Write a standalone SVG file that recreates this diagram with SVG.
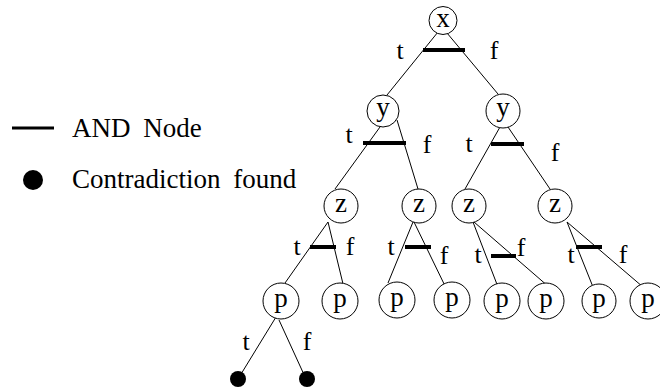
<svg xmlns="http://www.w3.org/2000/svg" width="660" height="390" viewBox="0 0 660 390">
  <style>
    text { font-family: "Liberation Serif", "Times New Roman", serif; fill: #000; }
    .lbl { font-size: 26px; text-anchor: middle; }
    .nd circle { fill: #fff; stroke: #000; stroke-width: 1; }
    .nd text { font-size: 27px; text-anchor: middle; }
    .edge { stroke: #000; stroke-width: 1; fill: none; }
    .and { stroke: #000; stroke-width: 4; }
    .dot { fill: #000; }
    .legend { font-size: 27px; word-spacing: 6px; }
  </style>

  <!-- legend -->
  <g id="legend">
    <line class="and" x1="12" y1="128" x2="54" y2="128" style="stroke-width:3"/>
    <text class="legend" x="72" y="137">AND Node</text>
    <circle class="dot" cx="33" cy="180" r="10"/>
    <text class="legend" x="72" y="188">Contradiction found</text>
  </g>

  <!-- branches, AND bars and branch labels -->
  <g id="connectors">
    <!-- x -->
    <line class="edge" x1="438" y1="32" x2="387" y2="95"/>
    <line class="edge" x1="447" y1="33" x2="498" y2="94"/>
    <line class="and" x1="423" y1="50" x2="465" y2="50"/>
    <text class="lbl" x="400" y="59">t</text>
    <text class="lbl" x="494" y="59">f</text>
    <!-- y (left) -->
    <line class="edge" x1="380" y1="127" x2="335" y2="189"/>
    <line class="edge" x1="397" y1="120" x2="418" y2="189"/>
    <line class="and" x1="363" y1="143" x2="406" y2="143"/>
    <text class="lbl" x="349" y="143">t</text>
    <text class="lbl" x="427" y="153">f</text>
    <!-- y (right) -->
    <line class="edge" x1="500" y1="127" x2="465" y2="189"/>
    <line class="edge" x1="508" y1="127" x2="550" y2="189"/>
    <line class="and" x1="491" y1="144" x2="524" y2="144"/>
    <text class="lbl" x="469" y="152">t</text>
    <text class="lbl" x="555" y="161">f</text>
    <!-- z1 -->
    <line class="edge" x1="328" y1="222" x2="285" y2="283"/>
    <line class="edge" x1="328" y1="222" x2="344" y2="288"/>
    <line class="and" x1="310" y1="247" x2="336" y2="247"/>
    <text class="lbl" x="297" y="255">t</text>
    <text class="lbl" x="350" y="255">f</text>
    <!-- z2 -->
    <line class="edge" x1="413" y1="222" x2="388" y2="283"/>
    <line class="edge" x1="414" y1="222" x2="447" y2="290"/>
    <line class="and" x1="405" y1="247" x2="431" y2="247"/>
    <text class="lbl" x="391" y="255">t</text>
    <text class="lbl" x="444" y="264">f</text>
    <!-- z3 -->
    <line class="edge" x1="473" y1="222" x2="498" y2="287"/>
    <line class="edge" x1="474" y1="222" x2="549" y2="287"/>
    <line class="and" x1="491" y1="256" x2="516" y2="256"/>
    <text class="lbl" x="478" y="263">t</text>
    <text class="lbl" x="521" y="256">f</text>
    <!-- z4 -->
    <line class="edge" x1="567" y1="222" x2="593" y2="287"/>
    <line class="edge" x1="567" y1="222" x2="643" y2="287"/>
    <line class="and" x1="576" y1="247" x2="602" y2="247"/>
    <text class="lbl" x="571" y="263">t</text>
    <text class="lbl" x="623" y="263">f</text>
    <!-- p1 -->
    <line class="edge" x1="276" y1="317" x2="238" y2="379"/>
    <line class="edge" x1="279" y1="320" x2="306" y2="379"/>
    <text class="lbl" x="246" y="350">t</text>
    <text class="lbl" x="307" y="350">f</text>
  </g>

  <!-- decision nodes -->
  <g id="n-x" class="nd"><circle cx="443" cy="20.5" r="14"/><text x="443" y="26.5">x</text></g>
  <g id="n-y1" class="nd"><circle cx="383" cy="111" r="16"/><text x="383" y="116">y</text></g>
  <g id="n-y2" class="nd"><circle cx="503" cy="111" r="17"/><text x="503" y="116">y</text></g>
  <g id="n-z1" class="nd"><circle cx="341" cy="206" r="17"/><text x="341" y="212">z</text></g>
  <g id="n-z2" class="nd"><circle cx="419" cy="206" r="17"/><text x="419" y="212">z</text></g>
  <g id="n-z3" class="nd"><circle cx="469" cy="206" r="17"/><text x="469" y="212">z</text></g>
  <g id="n-z4" class="nd"><circle cx="555" cy="206" r="17"/><text x="555" y="212">z</text></g>
  <g id="n-p1" class="nd"><circle cx="281" cy="301" r="18"/><text x="281" y="307">p</text></g>
  <g id="n-p2" class="nd"><circle cx="340" cy="301" r="18"/><text x="340" y="307">p</text></g>
  <g id="n-p3" class="nd"><circle cx="397" cy="300" r="18"/><text x="397" y="306">p</text></g>
  <g id="n-p4" class="nd"><circle cx="452" cy="300" r="18"/><text x="452" y="306">p</text></g>
  <g id="n-p5" class="nd"><circle cx="502" cy="301" r="18"/><text x="502" y="307">p</text></g>
  <g id="n-p6" class="nd"><circle cx="546" cy="301" r="18"/><text x="546" y="307">p</text></g>
  <g id="n-p7" class="nd"><circle cx="599" cy="301" r="17"/><text x="599" y="307">p</text></g>
  <g id="n-p8" class="nd"><circle cx="648" cy="301" r="18"/><text x="648" y="307">p</text></g>

  <!-- contradiction leaves -->
  <g id="n-c1"><circle class="dot" cx="238" cy="379" r="8"/></g>
  <g id="n-c2"><circle class="dot" cx="307" cy="379" r="8"/></g>
</svg>
